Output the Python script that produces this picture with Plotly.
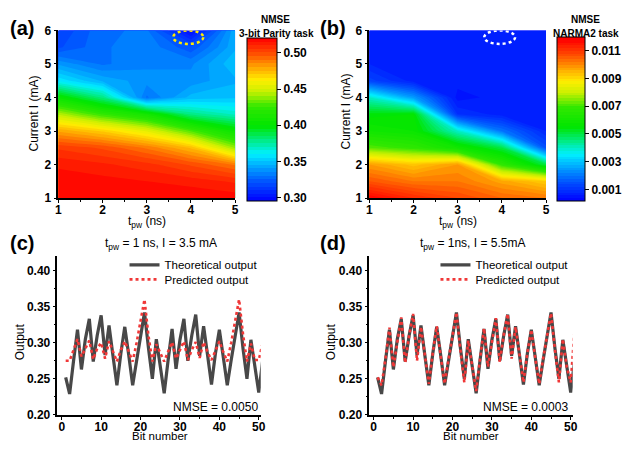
import plotly.graph_objects as go

# ---------------- data ----------------
tpw_ns = [1, 2, 3, 4, 5]
current_mA = [1, 1.5, 2, 2.5, 3, 3.5, 4, 4.5, 5, 5.5, 6]

# NMSE, 3-bit parity task  (rows = current, cols = tpw)
nmse_parity = [
    [0.521, 0.521, 0.520, 0.520, 0.519],
    [0.519, 0.518, 0.516, 0.514, 0.510],
    [0.515, 0.512, 0.508, 0.500, 0.490],
    [0.505, 0.500, 0.490, 0.475, 0.440],
    [0.480, 0.470, 0.455, 0.430, 0.405],
    [0.445, 0.425, 0.410, 0.380, 0.370],
    [0.405, 0.380, 0.330, 0.348, 0.350],
    [0.360, 0.345, 0.338, 0.338, 0.345],
    [0.340, 0.330, 0.335, 0.335, 0.350],
    [0.320, 0.330, 0.335, 0.322, 0.345],
    [0.316, 0.330, 0.332, 0.298, 0.345],
]

# NMSE, NARMA2 task
nmse_narma2 = [
    [0.0118, 0.0112, 0.0108, 0.0104, 0.0102],
    [0.0106, 0.0102, 0.0102, 0.0097, 0.0092],
    [0.0098, 0.0093, 0.0098, 0.0068, 0.0050],
    [0.0072, 0.0068, 0.0060, 0.0050, 0.0015],
    [0.0060, 0.0058, 0.0040, 0.0020, 0.0008],
    [0.0055, 0.0056, 0.0010, 0.0007, 0.0008],
    [0.0040, 0.0025, 0.0005, 0.0007, 0.0006],
    [0.0013, 0.0007, 0.0007, 0.0007, 0.0008],
    [0.0008, 0.0008, 0.0008, 0.0008, 0.0008],
    [0.0006, 0.0008, 0.0008, 0.0008, 0.0008],
    [0.0007, 0.0008, 0.0008, 0.0008, 0.0008],
]

bit_number = list(range(1, 52))
theoretical_output = [
    0.252, 0.229, 0.275, 0.318, 0.263, 0.305, 0.333, 0.274, 0.310, 0.338,
    0.283, 0.324, 0.282, 0.241, 0.285, 0.322, 0.283, 0.241, 0.275, 0.310,
    0.342, 0.293, 0.250, 0.305, 0.266, 0.230, 0.276, 0.319, 0.264, 0.304,
    0.333, 0.275, 0.310, 0.339, 0.282, 0.323, 0.283, 0.242, 0.285, 0.318,
    0.280, 0.241, 0.276, 0.311, 0.342, 0.292, 0.250, 0.304, 0.265, 0.231,
    0.276,
]
predicted_c = [
    0.275, 0.275, 0.290, 0.305, 0.281, 0.292, 0.303, 0.277, 0.292, 0.300,
    0.278, 0.302, 0.287, 0.274, 0.290, 0.302, 0.288, 0.274, 0.300, 0.330,
    0.360, 0.310, 0.274, 0.298, 0.285, 0.274, 0.288, 0.301, 0.278, 0.291,
    0.302, 0.276, 0.290, 0.301, 0.279, 0.301, 0.287, 0.276, 0.290, 0.302,
    0.287, 0.274, 0.300, 0.330, 0.360, 0.312, 0.274, 0.299, 0.276, 0.276,
    0.300,
]
predicted_d = [
    0.252, 0.241, 0.278, 0.321, 0.266, 0.303, 0.335, 0.272, 0.310, 0.340,
    0.275, 0.322, 0.280, 0.243, 0.286, 0.323, 0.282, 0.243, 0.277, 0.312,
    0.342, 0.290, 0.245, 0.303, 0.265, 0.233, 0.278, 0.320, 0.267, 0.303,
    0.334, 0.273, 0.311, 0.340, 0.278, 0.322, 0.281, 0.245, 0.286, 0.318,
    0.279, 0.243, 0.278, 0.312, 0.341, 0.290, 0.245, 0.305, 0.266, 0.245,
    0.320,
]

parity_ticks = [0.30, 0.35, 0.40, 0.45, 0.50]
narma_ticks = [0.001, 0.003, 0.005, 0.007, 0.009, 0.011]
output_ticks = [0.20, 0.25, 0.30, 0.35, 0.40]
bit_ticks = [0, 10, 20, 30, 40, 50]

# ---------------- style ----------------
# the page body adds an 8 px margin, so the figure is placed 8 px in; positions
# below are given in window pixels, then shifted into figure coordinates
OFF = 8
W, H = 631 - OFF, 450 - OFF
FONT = "Arial, Liberation Sans, sans-serif"


def px(x):
    return (x - OFF) / W


def py(y):
    return 1 - (y - OFF) / H


rainbow = [
    [0.00, "rgb(0,0,255)"],
    [0.12, "rgb(0,85,255)"],
    [0.22, "rgb(0,175,255)"],
    [0.29, "rgb(0,240,255)"],
    [0.38, "rgb(0,235,120)"],
    [0.46, "rgb(0,230,0)"],
    [0.58, "rgb(50,232,0)"],
    [0.67, "rgb(200,240,0)"],
    [0.74, "rgb(255,238,0)"],
    [0.82, "rgb(255,165,0)"],
    [0.90, "rgb(255,80,0)"],
    [1.00, "rgb(255,0,0)"],
]

cbar_common = dict(
    thicknessmode="pixels", lenmode="pixels", xanchor="left", yanchor="middle",
    outlinewidth=1, outlinecolor="black", tickmode="array",
    ticks="outside", ticklen=4, tickcolor="black",
    tickfont=dict(family=FONT, size=12, color="black", weight="bold"),
    xpad=0, ypad=0,
)

fig = go.Figure()

fig.add_trace(go.Contour(
    x=tpw_ns, y=current_mA, z=nmse_parity, xaxis="x", yaxis="y",
    colorscale=rainbow, zmin=0.296, zmax=0.521,
    contours=dict(start=0.296, end=0.521, size=0.005, coloring="fill", showlines=False),
    line=dict(width=0, smoothing=0),
    colorbar=dict(
        x=px(247), y=py(115.5), thickness=30, len=163,
        tickvals=parity_ticks, ticktext=[f"{v:.2f}" for v in parity_ticks],
        **cbar_common,
    ),
    showlegend=False,
))

fig.add_trace(go.Contour(
    x=tpw_ns, y=current_mA, z=nmse_narma2, xaxis="x2", yaxis="y2",
    colorscale=rainbow, zmin=0.0002, zmax=0.012,
    contours=dict(start=0.0002, end=0.012, size=0.0002, coloring="fill", showlines=False),
    line=dict(width=0, smoothing=0),
    colorbar=dict(
        x=px(561), y=py(115), thickness=28, len=164,
        tickvals=narma_ticks, ticktext=[f"{v:.3f}" for v in narma_ticks],
        **cbar_common,
    ),
    showlegend=False,
))

GRAY = "rgb(72,72,72)"
RED = "rgb(240,55,55)"

fig.add_trace(go.Scatter(x=bit_number, y=theoretical_output, xaxis="x3", yaxis="y3",
                         mode="lines", line=dict(color=GRAY, width=3.2),
                         name="Theoretical output", legend="legend", showlegend=True))
fig.add_trace(go.Scatter(x=bit_number, y=predicted_c, xaxis="x3", yaxis="y3",
                         mode="lines", line=dict(color=RED, width=2.6, dash="dot"),
                         name="Predicted output", legend="legend3", showlegend=True))
fig.add_trace(go.Scatter(x=bit_number, y=theoretical_output, xaxis="x4", yaxis="y4",
                         mode="lines", line=dict(color=GRAY, width=3.2),
                         name="Theoretical output", legend="legend2", showlegend=True))
fig.add_trace(go.Scatter(x=bit_number, y=predicted_d, xaxis="x4", yaxis="y4",
                         mode="lines", line=dict(color=RED, width=2.6, dash="dot"),
                         name="Predicted output", legend="legend4", showlegend=True))

tickfont = dict(family=FONT, size=12, color="black", weight="bold")
common = dict(showline=True, linecolor="black", linewidth=1.5, ticks="outside",
              ticklen=3, tickwidth=1.2, tickcolor="black", showgrid=False,
              zeroline=False, tickfont=tickfont)

heat_x = dict(range=[1, 5], tickvals=tpw_ns, ticklabelstandoff=-3,
              minor=dict(ticks="outside", ticklen=2, dtick=0.5, tick0=1, tickcolor="black"), **common)
heat_y = dict(range=[1, 6], tickvals=[1, 2, 3, 4, 5, 6], **common)
line_x = dict(range=[-1.1, 50.5], tickvals=bit_ticks, ticklabelstandoff=-3,
              minor=dict(ticks="outside", ticklen=2, dtick=5, tick0=0, tickcolor="black"), **common)
line_y = dict(range=[0.2, 0.42], tickvals=output_ticks,
              ticktext=[f"{v:.2f}" for v in output_ticks],
              minor=dict(ticks="outside", ticklen=2, dtick=0.025, tick0=0.2, tickcolor="black"), **common)

legend_common = dict(bgcolor="rgba(0,0,0,0)", borderwidth=0,
                     font=dict(family=FONT, size=11.5, color="black"),
                     xanchor="left", yanchor="middle", tracegroupgap=0, itemwidth=30)

fig.update_layout(
    width=W, height=H,
    showlegend=True,
    margin=dict(l=0, r=0, t=0, b=0),
    paper_bgcolor="white", plot_bgcolor="white",
    font=dict(family=FONT, color="black"),
    xaxis=dict(domain=[px(56), px(235)], anchor="y", **heat_x),
    yaxis=dict(domain=[py(197), py(24)], anchor="x", **heat_y),
    xaxis2=dict(domain=[px(371), px(550)], anchor="y2", **heat_x),
    yaxis2=dict(domain=[py(197), py(24)], anchor="x2", **heat_y),
    xaxis3=dict(domain=[px(55), px(261)], anchor="y3", **line_x),
    yaxis3=dict(domain=[py(421), py(257)], anchor="x3", **line_y),
    xaxis4=dict(domain=[px(371), px(577)], anchor="y4", **line_x),
    yaxis4=dict(domain=[py(421), py(257)], anchor="x4", **line_y),
    legend=dict(x=px(123), y=py(266), visible=True, **legend_common),
    legend3=dict(x=px(123), y=py(281), visible=True, **legend_common),
    legend2=dict(x=px(438), y=py(266), visible=True, **legend_common),
    legend4=dict(x=px(438), y=py(281), visible=True, **legend_common),
)

# dotted ellipses marking the optimum
fig.add_shape(type="circle", xref="x", yref="y", x0=3.6, x1=4.28, y0=5.6, y1=6.0,
              line=dict(color="rgb(255,235,0)", width=2.5, dash="dot"))
fig.add_shape(type="circle", xref="x2", yref="y2", x0=3.6, x1=4.3, y0=5.6, y1=6.0,
              line=dict(color="white", width=2.5, dash="dot"))


def ann(text, x, y, size=12, bold=False, angle=0, xanchor="center", yanchor="middle"):
    fig.add_annotation(text=text, x=px(x), y=py(y), xref="paper", yref="paper",
                       showarrow=False, textangle=angle, xanchor=xanchor, yanchor=yanchor,
                       borderpad=0,
                       font=dict(family=FONT, size=size, color="black",
                                 weight="bold" if bold else "normal"))


# panel labels
ann("(a)", 6, 21, size=20, bold=True, xanchor="left")
ann("(b)", 320, 21, size=20, bold=True, xanchor="left")
ann("(c)", 6, 243, size=20, bold=True, xanchor="left")
ann("(d)", 320, 243, size=20, bold=True, xanchor="left")

# colorbar titles
ann("NMSE", 276, 13, size=10, bold=True)
ann("3-bit Parity task", 277, 27, size=10, bold=True)
ann("NMSE", 590, 13, size=10, bold=True)
ann("NARMA2 task", 590, 27, size=10, bold=True)

# axis titles
ann("t<sub>pw</sub> (ns)", 146, 222, size=12)
ann("t<sub>pw</sub> (ns)", 461, 222, size=12)
ann("Current I (mA)", 31, 110, size=12, angle=-90)
ann("Current I (mA)", 347, 108, size=12, angle=-90)
ann("Bit number", 159, 443, size=11.5)
ann("Bit number", 474, 443, size=11.5)
ann("Output", 17, 345, size=12, angle=-90)
ann("Output", 332, 345, size=12, angle=-90)

# panel titles
ann("t<sub>pw</sub> = 1 ns, I = 3.5 mA", 160, 244, size=12)
ann("t<sub>pw</sub> = 1ns, I = 5.5mA", 476, 244, size=12)

# NMSE values
ann("NMSE = 0.0050", 259, 413, size=12, xanchor="right")
ann("NMSE = 0.0003", 573, 413, size=12, xanchor="right")

fig.write_html("out.html")
